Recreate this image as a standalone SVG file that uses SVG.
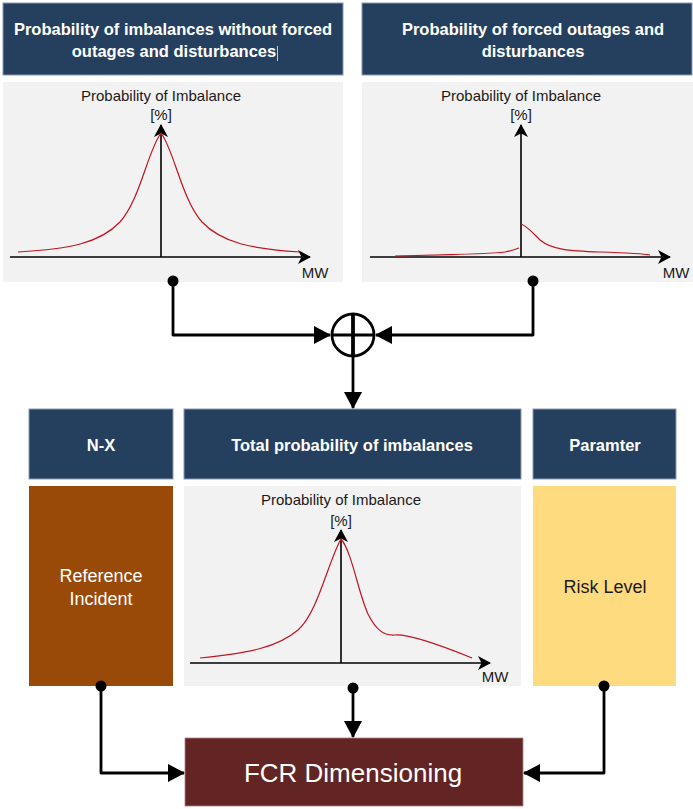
<svg xmlns="http://www.w3.org/2000/svg" width="693" height="809" viewBox="0 0 693 809">
  <defs>
    <marker id="axisHead" viewBox="0 0 14 14" refX="12" refY="7" markerWidth="14" markerHeight="14" markerUnits="userSpaceOnUse" orient="auto">
      <path d="M0,0 L13,7 L0,14 L3.5,7 Z" fill="#000"/>
    </marker>
    <marker id="flowHead" viewBox="0 0 17 18" refX="16" refY="9" markerWidth="17" markerHeight="18" markerUnits="userSpaceOnUse" orient="auto">
      <path d="M0,0 L17,9 L0,18 Z" fill="#000"/>
    </marker>
    <marker id="dot" viewBox="0 0 12 12" refX="6" refY="6" markerWidth="12" markerHeight="12" markerUnits="userSpaceOnUse">
      <circle cx="6" cy="6" r="5.5" fill="#000"/>
    </marker>
  </defs>
  <style>
    .hdr { fill: #253f5e; stroke: #8a9bb0; stroke-width: 1; }
    .hdrText { font-family: "Liberation Sans", Arial, sans-serif; font-weight: bold; font-size: 16.5px; fill: #ffffff; text-anchor: middle; }
    .panel { fill: #f2f2f2; }
    .axis { stroke: #000; stroke-width: 1.6; fill: none; marker-end: url(#axisHead); }
    .curve { stroke: #c0141e; stroke-width: 1.2; fill: none; }
    .axisLbl { font-family: "Liberation Sans", Arial, sans-serif; font-size: 15px; fill: #1a1a1a; text-anchor: middle; }
    .wire { stroke: #000; stroke-width: 2.8; fill: none; stroke-linejoin: round; }
    .bodyText { font-family: "Liberation Sans", Arial, sans-serif; font-size: 18px; text-anchor: middle; }
  </style>

  <!-- Upper left: imbalance distribution without outages -->
  <g id="node-imbalance-normal">
    <rect class="hdr" x="3" y="3" width="340" height="72"/>
    <text class="hdrText" x="173" y="35">Probability of imbalances without forced</text>
    <text class="hdrText" x="174" y="57">outages and disturbances</text>
    <line x1="277.5" y1="46" x2="277.5" y2="61" stroke="#c8c8c8" stroke-width="1"/>
    <rect class="panel" x="3" y="82" width="340" height="200"/>
    <text class="axisLbl" x="161" y="101">Probability of Imbalance</text>
    <text class="axisLbl" x="161" y="120">[%]</text>
    <line class="axis" x1="10" y1="257" x2="310" y2="257"/>
    <line class="axis" x1="161" y1="257" x2="161" y2="125"/>
    <path class="curve" d="M18,252 C70,249 100,243 120,222 C140,200 148,150 161,133 C174,150 182,200 202,222 C222,243 252,249 300,252"/>
    <text class="axisLbl" x="315" y="278">MW</text>
  </g>

  <!-- Upper right: forced outage distribution -->
  <g id="node-forced-outages">
    <rect class="hdr" x="362" y="3" width="330" height="72"/>
    <text class="hdrText" x="533" y="35">Probability of forced outages and</text>
    <text class="hdrText" x="533" y="57">disturbances</text>
    <rect class="panel" x="362" y="82" width="331" height="200"/>
    <text class="axisLbl" x="521" y="101">Probability of Imbalance</text>
    <text class="axisLbl" x="521" y="120">[%]</text>
    <line class="axis" x1="370" y1="257" x2="670" y2="257"/>
    <line class="axis" x1="521" y1="257" x2="521" y2="125"/>
    <path class="curve" d="M395,256 C440,255 490,254 505,252 C512,251 516,249 519,248"/>
    <path class="curve" d="M521,224 C527,226 532,232 540,240 C552,250 570,251 600,252 C630,253 645,254 650,255"/>
    <text class="axisLbl" x="676" y="278">MW</text>
  </g>

  <!-- Summation junction -->
  <g id="node-sum">
    <circle cx="353" cy="335" r="21" fill="#fff" stroke="#000" stroke-width="2.8"/>
    <line x1="332" y1="335" x2="374" y2="335" stroke="#000" stroke-width="2.8"/>
    <line x1="353" y1="314" x2="353" y2="356" stroke="#000" stroke-width="3.8"/>
  </g>

  <!-- Reference incident column -->
  <g id="node-nx">
    <rect class="hdr" x="29" y="409" width="144" height="70"/>
    <text class="hdrText" x="101" y="451">N-X</text>
    <rect x="29" y="486" width="144" height="200" fill="#9a4a08"/>
    <text class="bodyText" x="101" y="582" fill="#ffffff">Reference</text>
    <text class="bodyText" x="101" y="605" fill="#ffffff">Incident</text>
  </g>

  <!-- Combined distribution -->
  <g id="node-total">
    <rect class="hdr" x="184" y="409" width="337" height="70"/>
    <text class="hdrText" x="352" y="451">Total probability of imbalances</text>
    <rect class="panel" x="184" y="486" width="337" height="200"/>
    <text class="axisLbl" x="341" y="505">Probability of Imbalance</text>
    <text class="axisLbl" x="341" y="526">[%]</text>
    <line class="axis" x1="190" y1="663" x2="490" y2="663"/>
    <line class="axis" x1="341" y1="663" x2="341" y2="530"/>
    <path class="curve" d="M200,658 C250,653 278,647 298,630 C318,612 328,562 341,539 C352,552 358,592 368,614 C376,630 384,636 395,635 C410,634 440,645 472,658"/>
    <text class="axisLbl" x="495" y="682">MW</text>
  </g>

  <!-- Parameter column -->
  <g id="node-param">
    <rect class="hdr" x="533" y="409" width="143" height="70"/>
    <text class="hdrText" x="605" y="451">Paramter</text>
    <rect x="533" y="486" width="143" height="200" fill="#ffdb80"/>
    <text class="bodyText" x="605" y="593" fill="#1a1a1a">Risk Level</text>
  </g>

  <!-- Result -->
  <g id="node-fcr">
    <rect x="185" y="738" width="338" height="68" fill="#632523" stroke="#b08080" stroke-width="0.8"/>
    <text x="353" y="782" font-family="'Liberation Sans', Arial, sans-serif" font-size="26" fill="#ffffff" text-anchor="middle">FCR Dimensioning</text>
  </g>

  <!-- Connectors -->
  <g id="connectors">
    <path class="wire" d="M173,281 V335 H330" marker-start="url(#dot)" marker-end="url(#flowHead)"/>
    <path class="wire" d="M533,281 V335 H376" marker-start="url(#dot)" marker-end="url(#flowHead)"/>
    <path class="wire" d="M353,357 V408" marker-end="url(#flowHead)"/>
    <path class="wire" d="M101,686 V773 H184" marker-start="url(#dot)" marker-end="url(#flowHead)"/>
    <path class="wire" d="M353,688 V737" marker-start="url(#dot)" marker-end="url(#flowHead)"/>
    <path class="wire" d="M604,686 V773 H524" marker-start="url(#dot)" marker-end="url(#flowHead)"/>
  </g>
</svg>
